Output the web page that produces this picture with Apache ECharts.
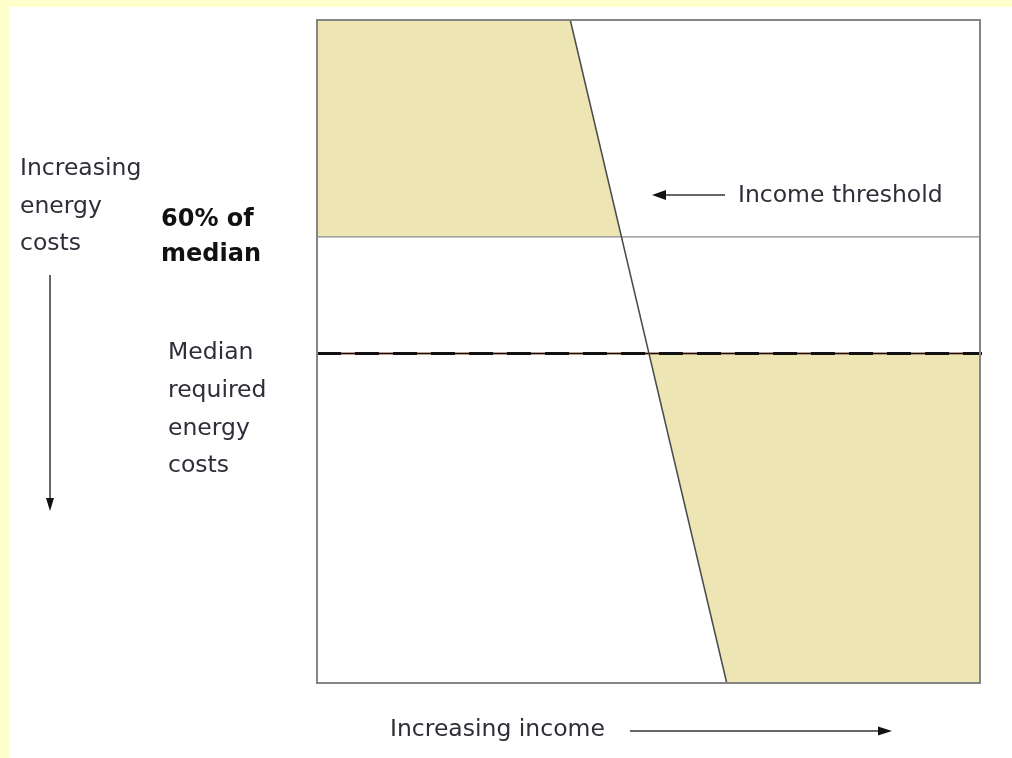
<!DOCTYPE html>
<html><head><meta charset="utf-8">
<script src="https://cdn.jsdelivr.net/npm/echarts@6/dist/echarts.min.js"></script>
<style>html,body{margin:0;padding:0;background:#fff}#c{width:1012px;height:758px}</style>
</head><body><div id="c"></div>
<script>
// Data (axis units 0..100; y = energy-cost axis, top = 100)
const thresholdX = [38.2, 61.8];
const thresholdY = [100, 0];
const sixtyPctLevel = 67.3;
const medianLevel = 49.7;
const upperFill = [[0, 100], [38.2, 100], [45.9, 67.3], [0, 67.3]];
const lowerFill = [[50.1, 49.7], [100, 49.7], [100, 0], [61.8, 0]];
const medianLineX = [0, 100.8];
const leaderX = [-4.8, 0];
const leftLabel = ['Increasing', 'energy', 'costs'];
const sixtyLabel = ['60% of', 'median'];
const medianLabel = ['Median', 'required', 'energy', 'costs'];
const thresholdLabel = 'Income threshold';
const incomeLabel = 'Increasing income';

const fillColor = '#EDE5B4';
const textColor = '#2e2e38';
const font = '"DejaVu Sans", sans-serif';

function polySeries(pts, z) {
  return {
    type: 'custom', z: z, silent: true,
    data: [0],
    renderItem: function (params, api) {
      return { type: 'polygon', shape: { points: pts.map(p => api.coord(p)) },
        style: { fill: fillColor } };
    }
  };
}
function lineSeries(data, color, width, type, z) {
  return { type: 'line', data: data, symbol: 'none', clip: false, z: z, silent: true,
    lineStyle: { color: color, width: width, type: type } };
}

const graphics = [
  { type: 'rect', left: 9, top: 7, shape: { width: 1003, height: 751 }, style: { fill: '#ffffff' }, z: -10 }
];
function txt(s, x, y, opts) {
  graphics.push(Object.assign({ type: 'text', x: x, y: y, z: 10,
    style: Object.assign({ text: s, fill: textColor, font: '23.5px ' + font, textVerticalAlign: 'middle' }, opts || {}) }));
}
leftLabel.forEach((s, i) => txt(s, 20, [169, 207, 244][i]));
sixtyLabel.forEach((s, i) => txt(s, 161, [220, 255][i], { font: 'bold 24px ' + font, fill: '#111' }));
medianLabel.forEach((s, i) => txt(s, 168, [353, 391, 429, 466][i]));
txt(thresholdLabel, 738, 196);
txt(incomeLabel, 390, 730);

function arrowLine(x1, y1, x2, y2) {
  graphics.push({ type: 'line', z: 10, shape: { x1: x1, y1: y1, x2: x2, y2: y2 }, style: { stroke: '#333', lineWidth: 1.5 } });
}
function head(points) {
  graphics.push({ type: 'polygon', z: 10, shape: { points: points }, style: { fill: '#111' } });
}
// vertical arrow (left)
arrowLine(50, 275, 50, 500);
head([[46, 498], [54, 498], [50, 511]]);
// income threshold arrow (points left)
arrowLine(664, 195, 725, 195);
head([[652, 195], [666, 190], [666, 200]]);
// bottom arrow (points right)
arrowLine(630, 731, 880, 731);
head([[892, 731], [878, 726.5], [878, 735.5]]);

const option = {
  animation: false,
  backgroundColor: '#FFFFCC',
  grid: { left: 317, right: 32, top: 20, bottom: 75, show: true, borderColor: '#858585', borderWidth: 2, backgroundColor: 'transparent', z: 5 },
  xAxis: { type: 'value', min: 0, max: 100, show: false },
  yAxis: { type: 'value', min: 0, max: 100, show: false },
  graphic: graphics,
  series: [
    polySeries(upperFill, 1),
    polySeries(lowerFill, 1),
    lineSeries([[0, sixtyPctLevel], [100, sixtyPctLevel]], '#8a8a8a', 1.3, 'solid', 3),
    lineSeries(leaderX.map(x => [x, medianLevel]), '#8a8a8a', 1.5, 'solid', 3),
    lineSeries(medianLineX.map(x => [x, medianLevel]), '#f2b8a0', 2.5, 'solid', 3),
    lineSeries(medianLineX.map(x => [x, medianLevel]), '#111', 1.5, 'solid', 4),
    lineSeries(medianLineX.map(x => [x, medianLevel]), '#111', 3, [24, 14], 4),
    lineSeries(thresholdX.map((x, i) => [x, thresholdY[i]]), '#4a4a4a', 1.5, 'solid', 4)
  ]
};
echarts.init(document.getElementById('c')).setOption(option);
</script></body></html>
